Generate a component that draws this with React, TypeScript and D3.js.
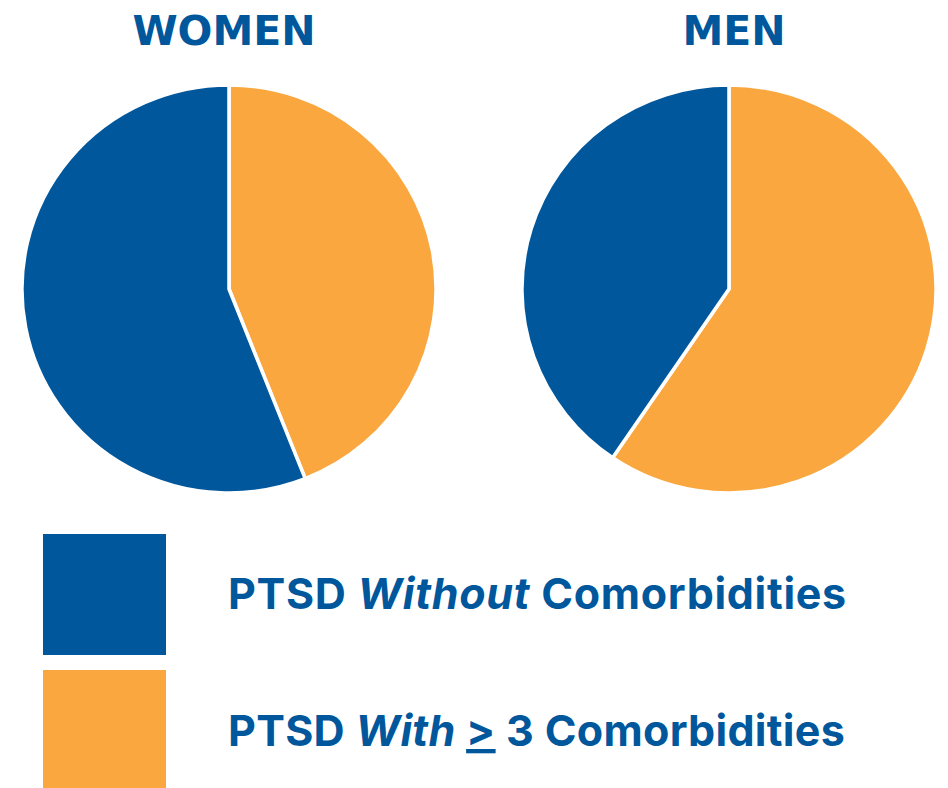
import React from "react";
import * as d3 from "d3";

const groups = ["WOMEN", "MEN"];
const categories = ["PTSD With ≥ 3 Comorbidities", "PTSD Without Comorbidities"];
const womenValues = [44, 56];
const menValues = [59.5, 40.5];
const colors = ["#FAA73F", "#00579C"];
const BLUE = "#00579C";

const W = 948;
const H = 788;

export default function App() {
  const series = [womenValues, menValues];
  const centers = [229, 729];
  const titleX = [224, 734];
  const cy = 289;
  const r = 204;
  const pie = d3.pie<number>().sort(null).value((d) => d);
  const arc = d3.arc<d3.PieArcDatum<number>>().innerRadius(0).outerRadius(r);
  return (
    <svg width={W} height={H} style={{ position: "fixed", left: 0, top: 0 }}>
      <rect width={W} height={H} fill="#fff" />
      {groups.map((g, gi) => (
        <g key={g}>
          <text
            x={titleX[gi]}
            y={45}
            textAnchor="middle"
            fontFamily="DejaVu Sans"
            fontWeight="bold"
            fontSize={41}
            fill={BLUE}
          >
            {g}
          </text>
          <g transform={`translate(${centers[gi]},${cy}) scale(1.015,1)`}>
            {pie(series[gi]).map((s, i) => (
              <path key={i} d={arc(s) || ""} fill={colors[i]} stroke="#fff" strokeWidth={3.5} strokeLinejoin="round" />
            ))}
          </g>
        </g>
      ))}
      <rect x={43} y={534} width={123} height={121} fill={colors[1]} />
      <rect x={43} y={670} width={123} height={118} fill={colors[0]} />
      <text x={228} y={609} fontFamily="Inter" fontWeight="bold" fontSize={43} letterSpacing={0.7} fill={BLUE}>
        PTSD <tspan fontStyle="italic">Without</tspan> Comorbidities
      </text>
      <text x={228} y={746} fontFamily="Inter" fontWeight="bold" fontSize={43} letterSpacing={0.3} fill={BLUE}>
        PTSD <tspan fontStyle="italic">With</tspan>{" "}
        <tspan textDecoration="underline">&gt;</tspan> 3 Comorbidities
      </text>
    </svg>
  );
}
